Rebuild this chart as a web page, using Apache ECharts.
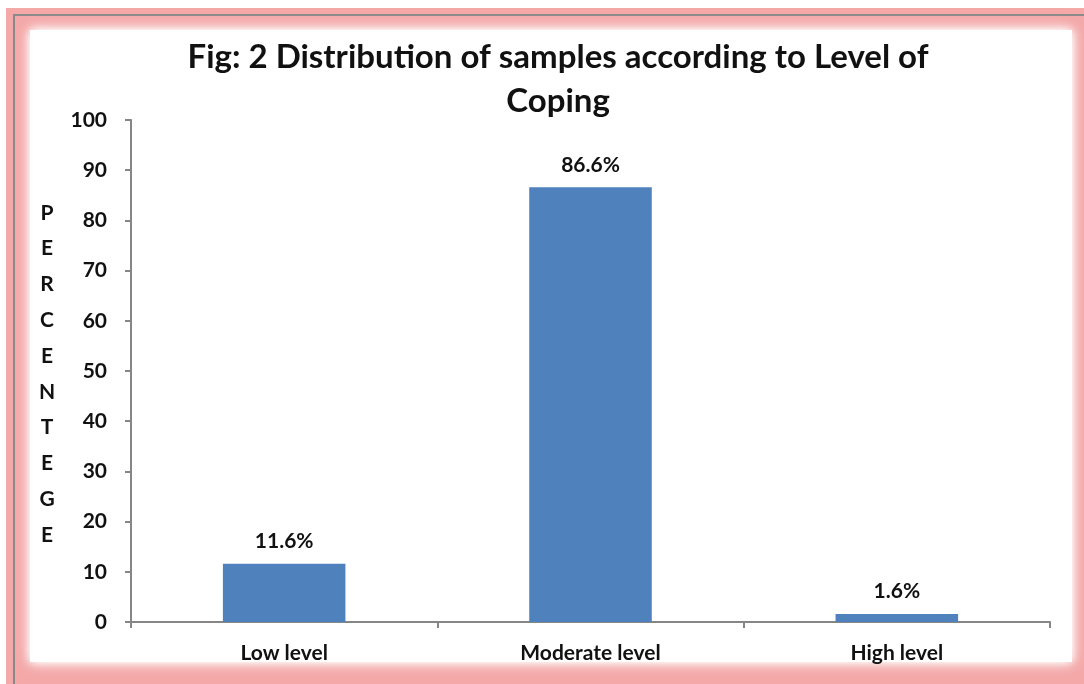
<!DOCTYPE html>
<html>
<head>
<meta charset="utf-8">
<script src="https://cdn.jsdelivr.net/npm/echarts@6/dist/echarts.min.js"></script>
<style>html,body{margin:0;padding:0;background:#fff;}#c{width:1084px;height:684px;}</style>
</head>
<body>
<div id="c"></div>
<script>
var categories = ['Low level', 'Moderate level', 'High level'];
var percentValues = [11.6, 86.6, 1.6];
var titleText = 'Fig: 2 Distribution of samples according to Level of\nCoping';
var yAxisTitle = 'PERCENTEGE';

var FONT = 'Lato';
var chart = echarts.init(document.getElementById('c'), null, {renderer: 'canvas'});
chart.setOption({
  animation: false,
  backgroundColor: '#ffffff',
  title: {
    text: titleText,
    left: 553, top: 30, textAlign: 'center',
    textStyle: {fontFamily: FONT, fontWeight: 'bold', fontSize: 33, color: '#111', lineHeight: 44}
  },
  grid: {left: 131, right: 34, top: 120, bottom: 62, containLabel: false},
  xAxis: {
    type: 'category', data: categories,
    axisLine: {lineStyle: {color: '#868686', width: 2}},
    axisTick: {show: true, length: 6, lineStyle: {color: '#868686', width: 2}},
    axisLabel: {fontFamily: FONT, fontWeight: 'bold', fontSize: 21, color: '#111', margin: 21}
  },
  yAxis: {
    type: 'value', min: 0, max: 100, interval: 10,
    axisLine: {show: true, lineStyle: {color: '#868686', width: 2}},
    axisTick: {show: true, length: 6, lineStyle: {color: '#868686', width: 2}},
    splitLine: {show: false},
    axisLabel: {fontFamily: FONT, fontWeight: 'bold', fontSize: 21, color: '#111', margin: 24}
  },
  series: [{
    type: 'bar', data: percentValues, barWidth: '40%',
    itemStyle: {color: '#4F81BD'},
    label: {show: true, position: 'top', distance: 12, formatter: '{c}%',
      fontFamily: FONT, fontWeight: 'bold', fontSize: 21, color: '#111'}
  }],
  graphic: [
    {type: 'rect', z: -30, shape: {x: 6, y: 8, width: 1200, height: 800}, style: {fill: '#F4A8A8'}},
    {type: 'rect', z: -29, shape: {x: 14, y: 15, width: 1200, height: 800}, style: {fill: 'none', stroke: '#8a8a8a', lineWidth: 2}},
    {type: 'rect', z: -28, shape: {x: 30, y: 30, width: 1042, height: 632},
      style: {fill: '#ffffff', shadowBlur: 14, shadowColor: '#ffffff'}},
    {type: 'rect', z: -27, shape: {x: 30, y: 30, width: 1042, height: 632},
      style: {fill: '#ffffff', shadowBlur: 8, shadowColor: '#ffffff'}},
    {type: 'text', z: 10, x: 47, y: 374,
      style: {text: yAxisTitle.split('').join('\n'), fontFamily: FONT, fontWeight: 'bold', fontSize: 21,
        fill: '#111', lineHeight: 35.8, align: 'center', verticalAlign: 'middle'}}
  ]
});
</script>
</body>
</html>
